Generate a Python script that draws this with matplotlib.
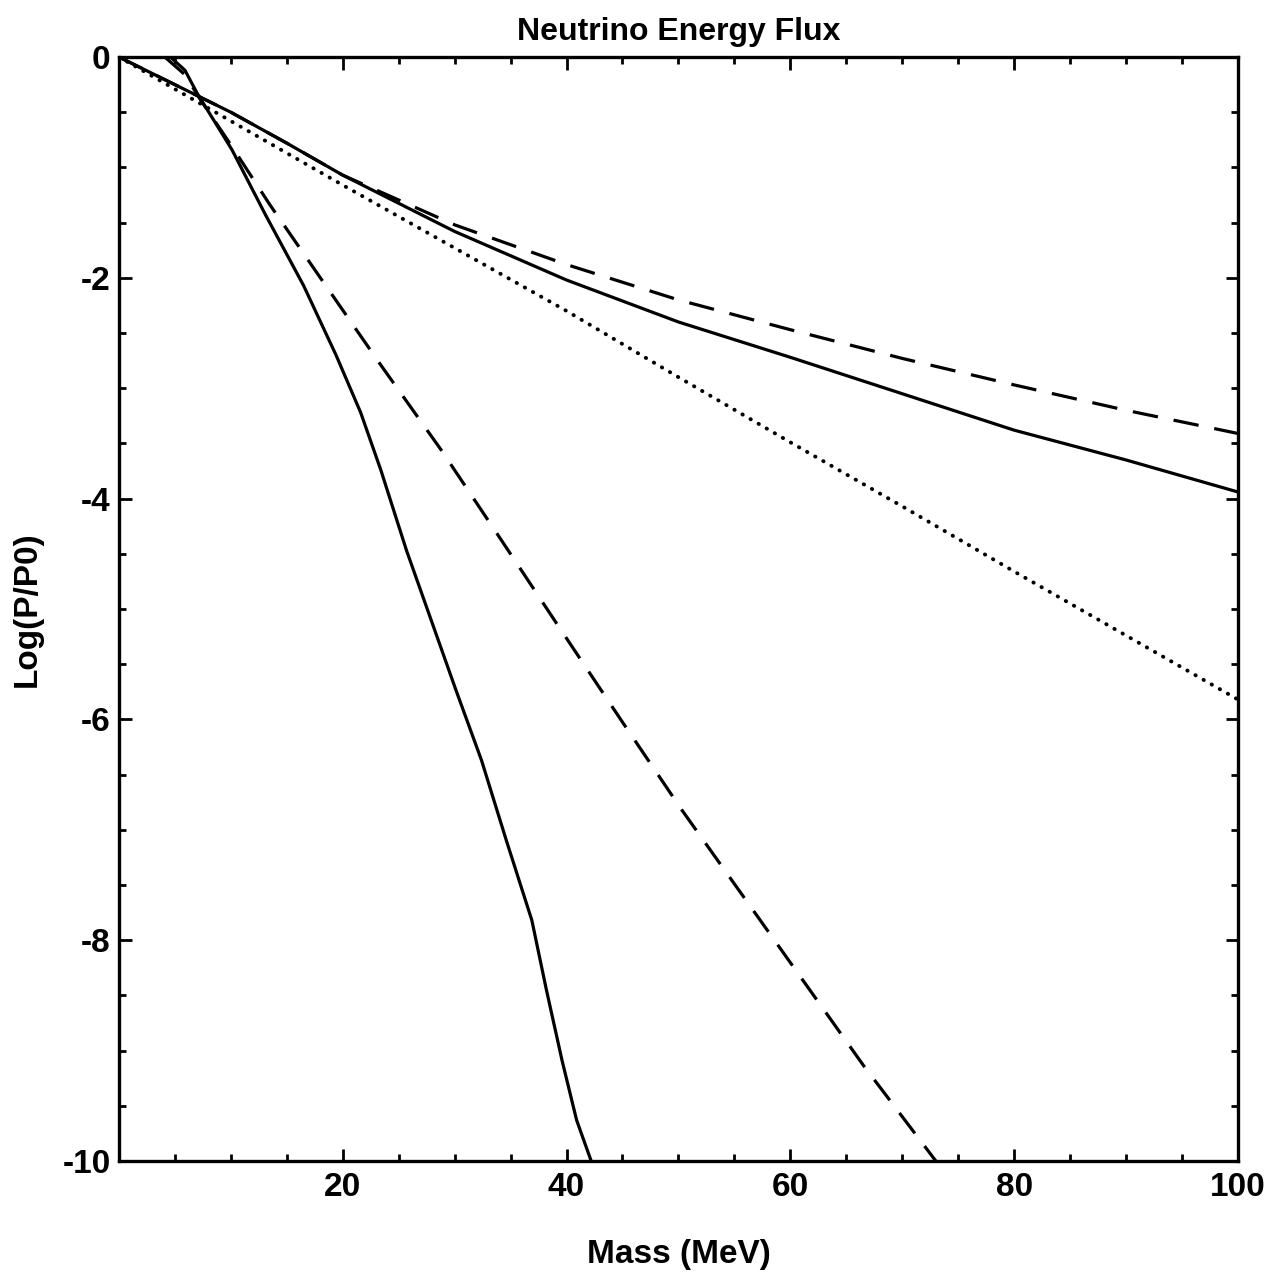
import matplotlib
matplotlib.use("Agg")
import matplotlib.pyplot as plt
from matplotlib.ticker import MultipleLocator

# ---- data ----
steep_solid_x = [4.6, 5.9, 7.0, 10.1, 13.1, 16.5, 19.4, 21.6, 23.4, 25.7, 27.9, 30.1, 32.4, 34.6, 36.9, 38.2, 39.6, 40.9, 42.2]
steep_solid_y = [0.0, -0.12, -0.33, -0.84, -1.43, -2.07, -2.70, -3.22, -3.74, -4.47, -5.10, -5.73, -6.37, -7.09, -7.82, -8.45, -9.09, -9.63, -10.0]

steep_dash_x = [4.1, 5.9, 7.3, 9.9, 13.5, 18.0, 23.4, 28.8, 34.2, 39.5, 44.9, 50.3, 55.7, 61.1, 66.5, 73.0]
steep_dash_y = [0.0, -0.16, -0.39, -0.78, -1.34, -2.00, -2.79, -3.56, -4.38, -5.19, -6.01, -6.82, -7.59, -8.36, -9.13, -10.0]

mod_dash_x = [0, 5, 10, 15, 20, 30, 40, 50, 60, 70, 80, 90, 100]
mod_dash_y = [0.0, -0.25, -0.50, -0.78, -1.07, -1.52, -1.88, -2.20, -2.47, -2.73, -2.97, -3.20, -3.41]

mod_solid_x = [0, 5, 10, 15, 20, 30, 40, 50, 60, 70, 80, 90, 100]
mod_solid_y = [0.0, -0.25, -0.50, -0.78, -1.07, -1.58, -2.02, -2.40, -2.72, -3.05, -3.38, -3.65, -3.94]

dot_x = [0, 5, 10, 15, 20, 30, 40, 50, 60, 70, 80, 90, 100]
dot_y = [0.0, -0.29, -0.58, -0.87, -1.16, -1.73, -2.30, -2.90, -3.49, -4.07, -4.66, -5.24, -5.82]

x_ticks = [20, 40, 60, 80, 100]
y_ticks = [0, -2, -4, -6, -8, -10]

title = "Neutrino Energy Flux"
xlabel = "Mass (MeV)"
ylabel = "Log(P/P0)"

# ---- figure ----
plt.rcParams['font.family'] = ['Liberation Sans', 'DejaVu Sans']
plt.rcParams['font.weight'] = 'bold'

fig = plt.figure(figsize=(12.68, 12.73), dpi=100)
ax = fig.add_axes([0.0938, 0.0880, 0.8825, 0.8672])

lw = 2.3
ax.plot(steep_solid_x, steep_solid_y, color='black', lw=lw, solid_joinstyle='round')
ax.plot(steep_dash_x, steep_dash_y, color='black', lw=lw, linestyle=(0, (8, 5)))
ax.plot(mod_solid_x, mod_solid_y, color='black', lw=lw, solid_joinstyle='round')
ax.plot(mod_dash_x, mod_dash_y, color='black', lw=lw, linestyle=(0, (8, 5)))
ax.plot(dot_x, dot_y, color='black', lw=2.8, linestyle=(0, (0.1, 2.3)), dash_capstyle='round')

ax.set_xlim(0, 100)
ax.set_ylim(-10, 0)
ax.set_xticks(x_ticks)
ax.set_xticklabels([str(v) for v in x_ticks])
ax.set_yticks(y_ticks)
ax.set_yticklabels([str(v) for v in y_ticks])
ax.xaxis.set_minor_locator(MultipleLocator(5))
ax.yaxis.set_minor_locator(MultipleLocator(0.5))
ax.tick_params(which='both', direction='in', top=True, right=True, width=2)
ax.tick_params(which='major', length=9, labelsize=24)
ax.tick_params(axis='x', which='major', pad=8)
ax.tick_params(axis='y', which='major', pad=6)
ax.tick_params(which='minor', length=5)
for s in ax.spines.values():
    s.set_linewidth(2.4)

ax.set_title(title, fontsize=23, fontweight='bold', pad=12)
ax.set_xlabel(xlabel, fontsize=24, fontweight='bold', labelpad=26)
ax.set_ylabel(ylabel, fontsize=24, fontweight='bold', labelpad=14)

fig.savefig('out.png', dpi=100)
